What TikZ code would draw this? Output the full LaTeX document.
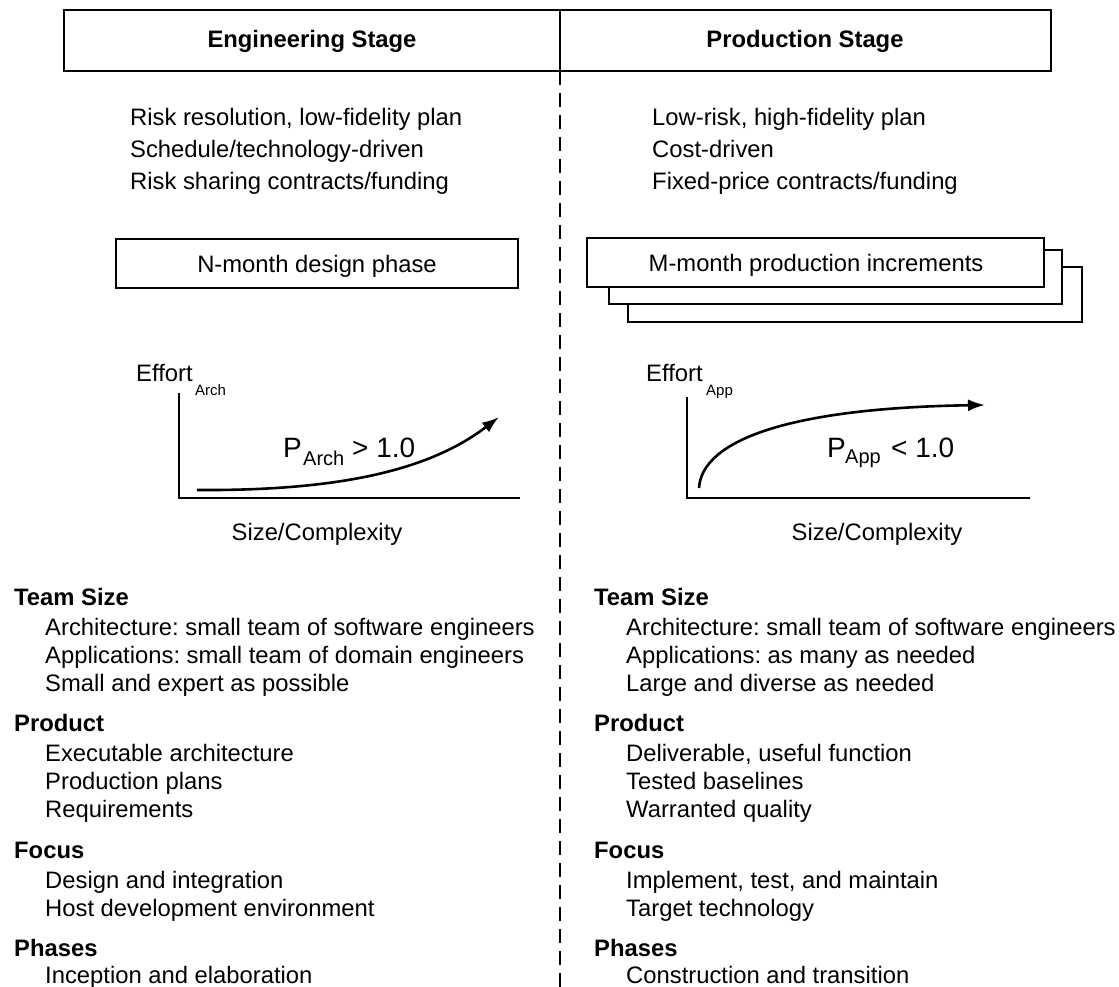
\documentclass[tikz,border=0pt]{standalone}
\usepackage{fontspec}
\setmainfont{Liberation Sans}
\usetikzlibrary{arrows.meta}
\begin{document}
\frenchspacing
\begin{tikzpicture}[x=1pt,y=-1pt,
  txt/.style={anchor=base west,inner sep=0pt,font=\fontsize{23.8}{28}\selectfont},
  ctxt/.style={anchor=base,inner sep=0pt,font=\fontsize{23.8}{28}\selectfont},
  head/.style={anchor=base west,inner sep=0pt,font=\fontsize{23.8}{28}\selectfont\bfseries},
  stagehead/.style={anchor=base,inner sep=0pt,font=\fontsize{23.8}{28}\selectfont\bfseries},
  frame/.style={draw=black,line width=1.6pt,fill=white},
  axis/.style={draw=black,line width=1.5pt},
  curve/.style={draw=black,line width=2.6pt,-{Latex[length=17pt,width=12pt]}},
  plabel/.style={anchor=base west,inner sep=0pt,font=\fontsize{28}{32}\selectfont},
  sublabel/.style={anchor=base west,inner sep=0pt,font=\fontsize{15}{18}\selectfont},
  psub/.style={anchor=base west,inner sep=0pt,font=\fontsize{20}{24}\selectfont}
]
\useasboundingbox (0,0) rectangle (1119,987);

% header
\draw[frame] (64,10) rectangle (1051,71);
\coordinate (divtop) at (560,10);
\coordinate (divmid) at (560,71);
\coordinate (divbot) at (560,987);
\draw[line width=1.4pt] (divtop) -- (divmid);
\draw[line width=1.4pt,dash pattern=on 14pt off 8pt] (divmid) -- (divbot);
\node[stagehead] (eng) at (312,48) {Engineering Stage};
\node[stagehead] (prod) at (805,48) {Production Stage};

% top texts
\node[txt] (l1) at (130,126) {Risk resolution, low-fidelity plan};
\node[txt] (l2) at (130,158) {Schedule/technology-driven};
\node[txt] (l3) at (130,190) {Risk sharing contracts/funding};
\node[txt] (r1) at (652,126) {Low-risk, high-fidelity plan};
\node[txt] (r2) at (652,158) {Cost-driven};
\node[txt] (r3) at (652,190) {Fixed-price contracts/funding};

% phase boxes
\draw[frame] (116,239) rectangle (518,288);
\node[ctxt] (npb) at (317,272) {N-month design phase};
\draw[frame] (628,267) rectangle (1082,322);
\draw[frame] (609,250) rectangle (1062,304);
\draw[frame] (587,238) rectangle (1044,287);
\node[ctxt] (mpb) at (816,271) {M-month production increments};

% left graph
\coordinate (lo) at (179,498);
\coordinate (ly) at (179,393);
\coordinate (lx) at (520,498);
\draw[axis] (ly) -- (lo) -- (lx);
\coordinate (lc0) at (197,490);
\coordinate (lc1) at (499,417);
\draw[curve] (lc0) .. controls (340,491) and (430,470) .. (lc1);
\node[txt] (effa) at (136,381) {Effort};
\node[sublabel] (effasub) at (195,395) {Arch};
\node[plabel] (pa) at (283,457) {P};
\node[psub] (pasub) at (303,465) {Arch};
\node[plabel] (pagt) at (352,457) {> 1.0};
\node[ctxt] (sca) at (317,540) {Size/Complexity};

% right graph
\coordinate (ro) at (687,498);
\coordinate (ry) at (687,397);
\coordinate (rx) at (1030,498);
\draw[axis] (ry) -- (ro) -- (rx);
\coordinate (rc0) at (699,488);
\coordinate (rc1) at (985,405);
\draw[curve] (rc0) .. controls (702,440) and (790,408) .. (rc1);
\node[txt] (effp) at (646,381) {Effort};
\node[sublabel] (effpsub) at (706,395) {App};
\node[plabel] (pp) at (827,457) {P};
\node[psub] (ppsub) at (845,463) {App};
\node[plabel] (pplt) at (891,457) {< 1.0};
\node[ctxt] (scp) at (877,540) {Size/Complexity};

% left lists
\node[head] (lts) at (14,605) {Team Size};
\node[txt] (lts1) at (45,635) {Architecture: small team of software engineers};
\node[txt] (lts2) at (45,663) {Applications: small team of domain engineers};
\node[txt] (lts3) at (45,691) {Small and expert as possible};
\node[head] (lpr) at (14,731) {Product};
\node[txt] (lpr1) at (45,761) {Executable architecture};
\node[txt] (lpr2) at (45,789) {Production plans};
\node[txt] (lpr3) at (45,817) {Requirements};
\node[head] (lfo) at (14,858) {Focus};
\node[txt] (lfo1) at (45,888) {Design and integration};
\node[txt] (lfo2) at (45,916) {Host development environment};
\node[head] (lph) at (14,956) {Phases};
\node[txt] (lph1) at (45,983) {Inception and elaboration};

% right lists
\node[head] (rts) at (594,605) {Team Size};
\node[txt] (rts1) at (626,635) {Architecture: small team of software engineers};
\node[txt] (rts2) at (626,663) {Applications: as many as needed};
\node[txt] (rts3) at (626,691) {Large and diverse as needed};
\node[head] (rpr) at (594,731) {Product};
\node[txt] (rpr1) at (626,761) {Deliverable, useful function};
\node[txt] (rpr2) at (626,789) {Tested baselines};
\node[txt] (rpr3) at (626,817) {Warranted quality};
\node[head] (rfo) at (594,858) {Focus};
\node[txt] (rfo1) at (626,888) {Implement, test, and maintain};
\node[txt] (rfo2) at (626,916) {Target technology};
\node[head] (rph) at (594,956) {Phases};
\node[txt] (rph1) at (626,983) {Construction and transition};
\end{tikzpicture}
\end{document}
